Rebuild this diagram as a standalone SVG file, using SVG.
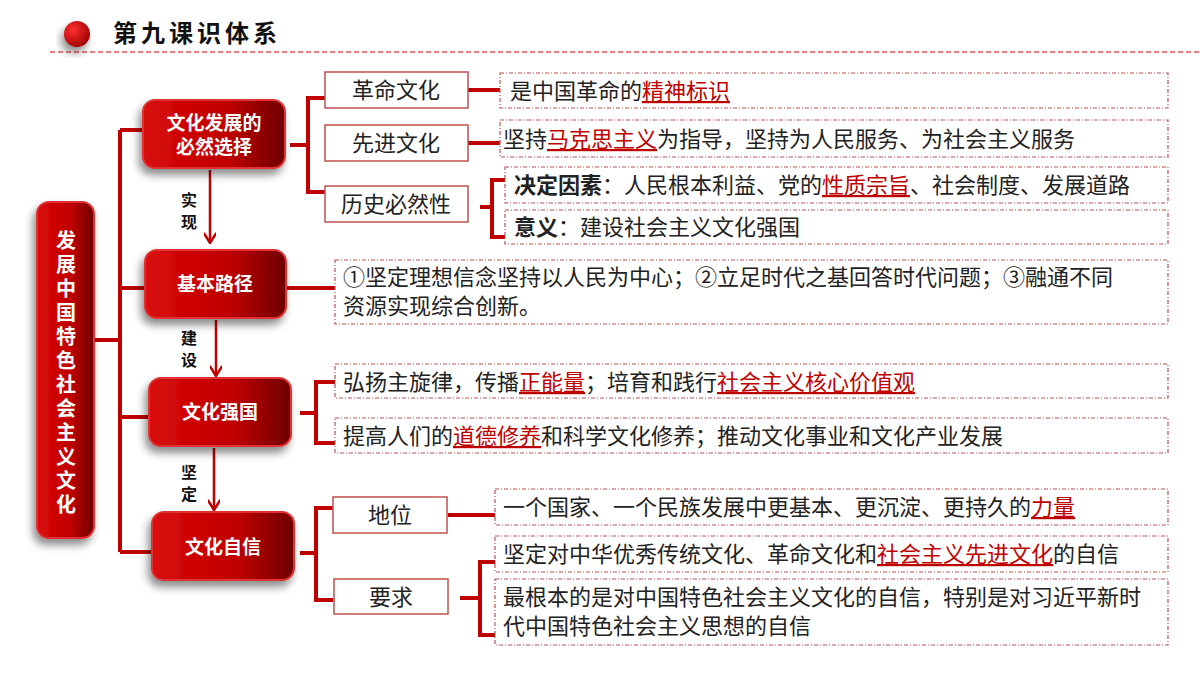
<svg xmlns="http://www.w3.org/2000/svg" width="1200" height="675" viewBox="0 0 1200 675">
<defs>
<linearGradient id="g" x1="0" y1="0" x2="1" y2="0"><stop offset="0" stop-color="#d90a0a"/><stop offset="0.6" stop-color="#c00000"/><stop offset="1" stop-color="#6e0000"/></linearGradient>
<radialGradient id="rc" cx="0.35" cy="0.35" r="0.7"><stop offset="0" stop-color="#ff3030"/><stop offset="1" stop-color="#a00000"/></radialGradient>
<filter id="sh" x="-30%" y="-30%" width="160%" height="170%"><feDropShadow dx="-3" dy="6" stdDeviation="4" flood-color="#000" flood-opacity="0.45"/></filter>
<marker id="ah" viewBox="0 0 10 10" refX="9" refY="5" markerWidth="5" markerHeight="5" orient="auto"><path d="M1,0 L9,5 L1,10" fill="none" stroke="#c00000" stroke-width="2"/></marker>
<style>
text{font-family:"Noto Sans CJK SC","Noto Sans",sans-serif}
.n rect{fill:url(#g);stroke:#e03030;stroke-width:2;filter:url(#sh)}
.nt{fill:#fff;font-weight:bold;font-size:19px;text-anchor:middle}
.b{fill:#fff;stroke:#c0504d;stroke-width:1.5}
.d{fill:#fff;stroke:#c0504d;stroke-width:1.2;stroke-dasharray:4 2 1 2}
.t{font-size:22px;fill:#222}
.bt{font-size:22px;fill:#222;text-anchor:middle}
.r{fill:#c00000;text-decoration:underline}
.c{fill:none;stroke:#c00000;stroke-width:4}
.a{fill:none;stroke:#c00000;stroke-width:2.5;marker-end:url(#ah)}
.lb{font-size:16px;font-weight:bold;fill:#111;text-anchor:middle}
</style>
</defs>
<rect width="1200" height="675" fill="#fff"/>
<g id="title">
<circle cx="77" cy="34" r="13" fill="url(#rc)" filter="url(#sh)"/>
<text x="113" y="42" font-size="24" font-weight="bold" letter-spacing="4" fill="#111">第九课识体系</text>
<line x1="50" y1="52" x2="1200" y2="52" stroke="#c00000" stroke-width="1.2" stroke-dasharray="5 3"/>
</g>
<g id="connectors">
<path class="c" d="M95,340 H120 M120,130 V552 M120,130 H143 M120,288 H145 M120,417 H149 M120,552 H152"/>
<path class="c" d="M290,145 H308 M325,98 H308 V192 H325 M468,90 H500 M468,143 H500"/>
<path class="c" d="M480,207 H492 M505,180 H492 V237 H505"/>
<path class="c" d="M286,288 H335"/>
<path class="c" d="M300,413 H316 M335,382 H316 V443 H335"/>
<path class="c" d="M300,553 H316 M333,508 H316 V600 H333 M448,515 H495"/>
<path class="c" d="M460,598 H480 M495,562 H480 V635 H495"/>
<line class="a" x1="210" y1="170" x2="210" y2="243"/>
<line class="a" x1="216" y1="320" x2="216" y2="376"/>
<line class="a" x1="214" y1="448" x2="214" y2="510"/>
<text class="lb" x="189" y="206">实</text><text class="lb" x="189" y="228">现</text>
<text class="lb" x="189" y="344">建</text><text class="lb" x="189" y="366">设</text>
<text class="lb" x="189" y="478">坚</text><text class="lb" x="189" y="500">定</text>
</g>
<g id="root" class="n"><rect x="37" y="202" width="57" height="336" rx="12"/>
<text x="66" y="230" fill="#fff" font-weight="bold" font-size="20" letter-spacing="4" style="writing-mode:vertical-rl">发展中国特色社会主义文化</text></g>
<g id="n1" class="n"><rect x="143" y="100" width="142" height="68" rx="12"/><text class="nt" x="214" y="130">文化发展的</text><text class="nt" x="214" y="154">必然选择</text></g>
<g id="n2" class="n"><rect x="145" y="250" width="141" height="68" rx="12"/><text class="nt" x="215" y="291">基本路径</text></g>
<g id="n3" class="n"><rect x="149" y="378" width="142" height="68" rx="12"/><text class="nt" x="220" y="419">文化强国</text></g>
<g id="n4" class="n"><rect x="152" y="512" width="142" height="68" rx="12"/><text class="nt" x="223" y="554">文化自信</text></g>
<g id="b1"><rect class="b" x="325" y="72" width="143" height="36"/><text class="bt" x="396" y="98">革命文化</text></g>
<g id="b2"><rect class="b" x="325" y="125" width="143" height="36"/><text class="bt" x="396" y="151">先进文化</text></g>
<g id="b3"><rect class="b" x="325" y="186" width="143" height="36"/><text class="bt" x="396" y="212">历史必然性</text></g>
<g id="d1"><rect class="d" x="500" y="73" width="668" height="35"/><text class="t" x="510" y="99">是中国革命的<tspan class="r">精神标识</tspan></text></g>
<g id="d2"><rect class="d" x="500" y="120" width="668" height="37"/><text class="t" x="503" y="147">坚持<tspan class="r">马克思主义</tspan>为指导，坚持为人民服务、为社会主义服务</text></g>
<g id="d3"><rect class="d" x="505" y="167" width="663" height="36"/><text class="t" x="514" y="193"><tspan font-weight="bold">决定因素</tspan>：人民根本利益、党的<tspan class="r">性质宗旨</tspan>、社会制度、发展道路</text></g>
<g id="d4"><rect class="d" x="505" y="210" width="663" height="34"/><text class="t" x="514" y="235"><tspan font-weight="bold">意义</tspan>：建设社会主义文化强国</text></g>
<g id="d5"><rect class="d" x="335" y="260" width="833" height="64"/><text class="t" x="343" y="285">①坚定理想信念坚持以人民为中心；②立足时代之基回答时代问题；③融通不同</text><text class="t" x="343" y="314">资源实现综合创新。</text></g>
<g id="d6"><rect class="d" x="335" y="364" width="833" height="34"/><text class="t" x="343" y="390">弘扬主旋律，传播<tspan class="r">正能量</tspan>；培育和践行<tspan class="r">社会主义核心价值观</tspan></text></g>
<g id="d7"><rect class="d" x="335" y="418" width="833" height="35"/><text class="t" x="343" y="444">提高人们的<tspan class="r">道德修养</tspan>和科学文化修养；推动文化事业和文化产业发展</text></g>
<g id="b4"><rect class="b" x="333" y="497" width="114" height="36"/><text class="bt" x="390" y="523">地位</text></g>
<g id="b5"><rect class="b" x="334" y="579" width="114" height="35"/><text class="bt" x="391" y="605">要求</text></g>
<g id="d8"><rect class="d" x="495" y="489" width="673" height="36"/><text class="t" x="503" y="515">一个国家、一个民族发展中更基本、更沉淀、更持久的<tspan class="r">力量</tspan></text></g>
<g id="d9"><rect class="d" x="495" y="536" width="673" height="36"/><text class="t" x="503" y="562">坚定对中华优秀传统文化、革命文化和<tspan class="r">社会主义先进文化</tspan>的自信</text></g>
<g id="d10"><rect class="d" x="495" y="579" width="673" height="66"/><text class="t" x="503" y="605">最根本的是对中国特色社会主义文化的自信，特别是对习近平新时</text><text class="t" x="503" y="634">代中国特色社会主义思想的自信</text></g>
</svg>
